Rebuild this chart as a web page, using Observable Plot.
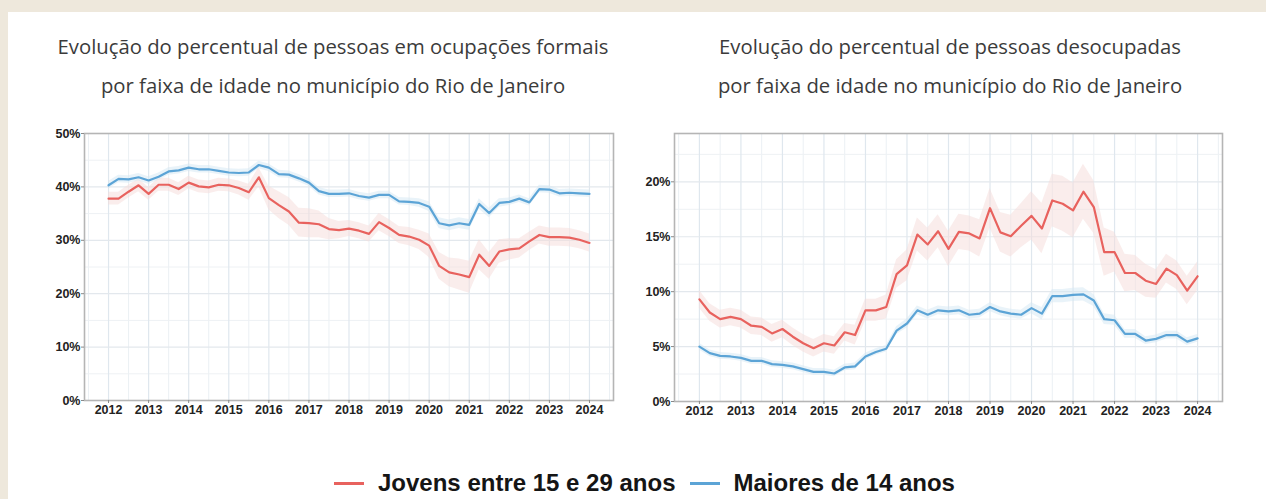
<!DOCTYPE html>
<html><head><meta charset="utf-8">
<script src="https://cdn.jsdelivr.net/npm/d3@7"></script>
<script src="https://cdn.jsdelivr.net/npm/@observablehq/plot@0.6"></script>
<style>
html,body{margin:0;padding:0;background:#eee8dc;width:1266px;height:499px;overflow:hidden;position:relative}
#card{position:absolute;left:8px;top:12px;width:1258px;height:487px;background:#fff}
.title{position:absolute;font-family:"Open Sans",sans-serif;font-size:20.3px;color:#3b3b3b;text-align:center;line-height:39px;white-space:nowrap}
.chart{position:absolute;top:120px}
#legend{position:absolute;top:468px;left:334px;height:30px;display:flex;align-items:center;font-family:"Liberation Sans",Arial,sans-serif;font-weight:bold;font-size:24px;color:#151515;white-space:nowrap}
.sw{display:inline-block;width:30px;height:3px;margin-right:14px}
</style></head>
<body>
<div id="card"></div>
<div class="title" id="t1" style="left:0;width:666px;top:27px">Evolução do percentual de pessoas em ocupações formais<br>por faixa de idade no município do Rio de Janeiro</div>
<div class="title" id="t2" style="left:617px;width:666px;top:27px">Evolução do percentual de pessoas desocupadas<br>por faixa de idade no município do Rio de Janeiro</div>
<div class="chart" id="c1" style="left:0"></div>
<div class="chart" id="c2" style="left:620px"></div>
<div id="legend"><span class="sw" style="background:#e8625e"></span><span id="lg1">Jovens entre 15 e 29 anos</span><span class="sw" style="background:#5ca4d6;margin-left:14px"></span><span>Maiores de 14 anos</span></div>
<script>
// quarterly series, 2012 Q1 .. 2024 Q1
const startYear = 2012;
const seriesNames = ["Jovens entre 15 e 29 anos", "Maiores de 14 anos"];
const yearTicks = [2012,2013,2014,2015,2016,2017,2018,2019,2020,2021,2022,2023,2024];
const formalTicks = [0,10,20,30,40,50];
const desocTicks = [0,5,10,15,20];

// % em ocupações formais
const formalJovens = [37.8,37.8,39.1,40.3,38.7,40.4,40.4,39.6,40.8,40.1,39.9,40.4,40.3,39.8,39.0,41.8,
  37.9,36.6,35.4,33.3,33.2,33.0,32.1,31.9,32.2,31.8,31.2,33.4,32.3,31.0,30.7,30.1,
  29.0,25.2,24.0,23.6,23.1,27.3,25.2,27.9,28.3,28.5,29.8,31.0,30.6,30.6,30.5,30.1,29.5];
const formalMaiores = [40.3,41.5,41.4,41.8,41.2,41.9,42.9,43.1,43.6,43.3,43.3,43.0,42.7,42.6,42.7,44.1,
  43.6,42.4,42.3,41.6,40.8,39.2,38.7,38.7,38.8,38.3,38.0,38.5,38.5,37.3,37.2,37.0,
  36.3,33.2,32.8,33.2,32.9,36.8,35.1,37.0,37.2,37.8,37.1,39.6,39.5,38.8,38.9,38.8,38.7];
// band half-widths (pp)
const formalJovensBand = [1.2,1.2,1.2,1.2,1.2,1.2,1.2,1.2,1.2,1.2,1.2,1.2,1.2,1.3,1.5,1.8,
  2.2,2.5,2.6,2.7,2.7,2.5,2.0,1.6,1.5,1.5,1.5,1.6,1.6,1.6,1.7,1.8,
  2.2,2.5,2.7,2.9,3.0,2.8,2.5,2.2,2.0,1.8,1.7,1.7,1.7,1.7,1.7,1.7,1.7];
const formalMaioresBand = [0.7,0.7,0.7,0.7,0.7,0.7,0.7,0.7,0.7,0.7,0.7,0.7,0.7,0.7,0.7,0.7,
  0.7,0.7,0.7,0.7,0.7,0.7,0.7,0.7,0.7,0.7,0.7,0.7,0.7,0.7,0.7,0.8,
  0.9,1.0,1.0,1.0,1.0,1.0,0.9,0.8,0.7,0.7,0.7,0.7,0.7,0.7,0.7,0.7,0.7];

// % desocupadas
const desocJovens = [9.3,8.1,7.5,7.7,7.5,6.9,6.8,6.2,6.6,5.9,5.3,4.85,5.3,5.1,6.3,6.05,
  8.3,8.3,8.6,11.6,12.4,15.2,14.3,15.5,13.9,15.45,15.3,14.85,17.6,15.4,15.05,16.0,
  16.9,15.75,18.3,18.0,17.4,19.1,17.7,13.6,13.6,11.7,11.7,11.0,10.7,12.1,11.5,10.1,11.4];
const desocMaiores = [5.0,4.4,4.15,4.1,3.97,3.7,3.7,3.4,3.33,3.2,2.95,2.7,2.7,2.55,3.1,3.2,
  4.1,4.5,4.8,6.45,7.1,8.3,7.9,8.3,8.2,8.3,7.9,8.0,8.6,8.2,8.0,7.9,
  8.5,8.0,9.6,9.6,9.7,9.75,9.2,7.5,7.4,6.15,6.15,5.55,5.7,6.05,6.05,5.45,5.75];
const desocJovensBand = [0.8,0.8,0.8,0.8,0.8,0.8,0.8,0.8,0.8,0.8,0.8,0.8,0.8,0.8,0.8,0.9,
  1.0,1.0,1.1,1.3,1.4,1.5,1.5,1.5,1.6,1.6,1.6,1.7,1.8,1.8,1.9,2.0,
  2.2,2.3,2.4,2.5,2.5,2.5,2.4,2.2,1.8,1.7,1.6,1.5,1.3,1.3,1.3,1.3,1.3];
const desocMaioresBand = [0.3,0.3,0.3,0.3,0.3,0.3,0.3,0.3,0.3,0.3,0.3,0.3,0.3,0.3,0.3,0.3,
  0.3,0.3,0.3,0.35,0.4,0.4,0.4,0.4,0.4,0.4,0.4,0.4,0.4,0.4,0.4,0.4,
  0.5,0.55,0.6,0.6,0.6,0.6,0.55,0.5,0.45,0.4,0.4,0.35,0.35,0.35,0.35,0.35,0.35];

const colors = {"Jovens entre 15 e 29 anos": "#e8625e", "Maiores de 14 anos": "#5ca4d6"};
const bandColors = {"Jovens entre 15 e 29 anos": "#f5dcd9", "Maiores de 14 anos": "#d3e8f4"};

function rows(jov, jovB, mai, maiB) {
  const out = [];
  [[seriesNames[0], jov, jovB], [seriesNames[1], mai, maiB]].forEach(([s, v, b]) => {
    v.forEach((val, i) => out.push({s, t: startYear + i / 4, v: val, lo: val - b[i], hi: val + b[i]}));
  });
  return out;
}

function draw(el, data, o) {
  const minorX = yearTicks.slice(0, -1).map(y => y + 0.5).concat([yearTicks[0] - 0.5, yearTicks[yearTicks.length-1] + 0.5]);
  const minorY = o.yTicks.slice(0, -1).map((y, i) => (y + o.yTicks[i+1]) / 2).concat([o.yTicks[o.yTicks.length-1] + (o.yTicks[1]-o.yTicks[0])/2]).filter(v => v <= o.yMax);
  const chart = Plot.plot({
    width: o.width, height: 300,
    marginLeft: o.ml, marginRight: o.mr, marginTop: 13, marginBottom: o.mb,
    style: {fontFamily: "'Liberation Sans', Arial, sans-serif", fontSize: "12.5px", fontWeight: "bold", color: "#222", background: "transparent"},
    x: {domain: [2011.4, 2024.6]},
    y: {domain: [0, o.yMax]},
    marks: [
      Plot.gridX(minorX, {stroke: "#ebf0f4", strokeOpacity: 1, strokeWidth: 1}),
      Plot.gridY(minorY, {stroke: "#eef1f4", strokeOpacity: 1, strokeWidth: 1}),
      Plot.gridX(yearTicks, {stroke: "#dfe7ee", strokeOpacity: 1, strokeWidth: 1.2}),
      Plot.gridY(o.yTicks, {stroke: "#e3e8ed", strokeOpacity: 1, strokeWidth: 1.2}),
      Plot.areaY(data, {x: "t", y1: "lo", y2: "hi", z: "s", fill: d => bandColors[d.s], fillOpacity: 0.5, curve: "linear"}),
      Plot.line(data, {x: "t", y: "v", z: "s", stroke: d => colors[d.s], strokeWidth: 2.2}),
      Plot.frame({stroke: "#b5b5b5", strokeWidth: 1.6}),
      Plot.axisX(yearTicks, {tickSize: 3, tickPadding: 2, stroke: "#888", fill: "#222", tickFormat: d => String(d), label: null}),
      Plot.axisY(o.yTicks, {tickSize: 3, tickPadding: 1, stroke: "#888", fill: "#222", tickFormat: d => d + "%", label: null})
    ]
  });
  document.getElementById(el).append(chart);
}

draw("c1", rows(formalJovens, formalJovensBand, formalMaiores, formalMaioresBand),
  {width: 640, ml: 84, mr: 27, mb: 20, yMax: 50, yTicks: formalTicks});
draw("c2", rows(desocJovens, desocJovensBand, desocMaiores, desocMaioresBand),
  {width: 620, ml: 54, mr: 18, mb: 19, yMax: 24.4, yTicks: desocTicks});
</script>
</body></html>
